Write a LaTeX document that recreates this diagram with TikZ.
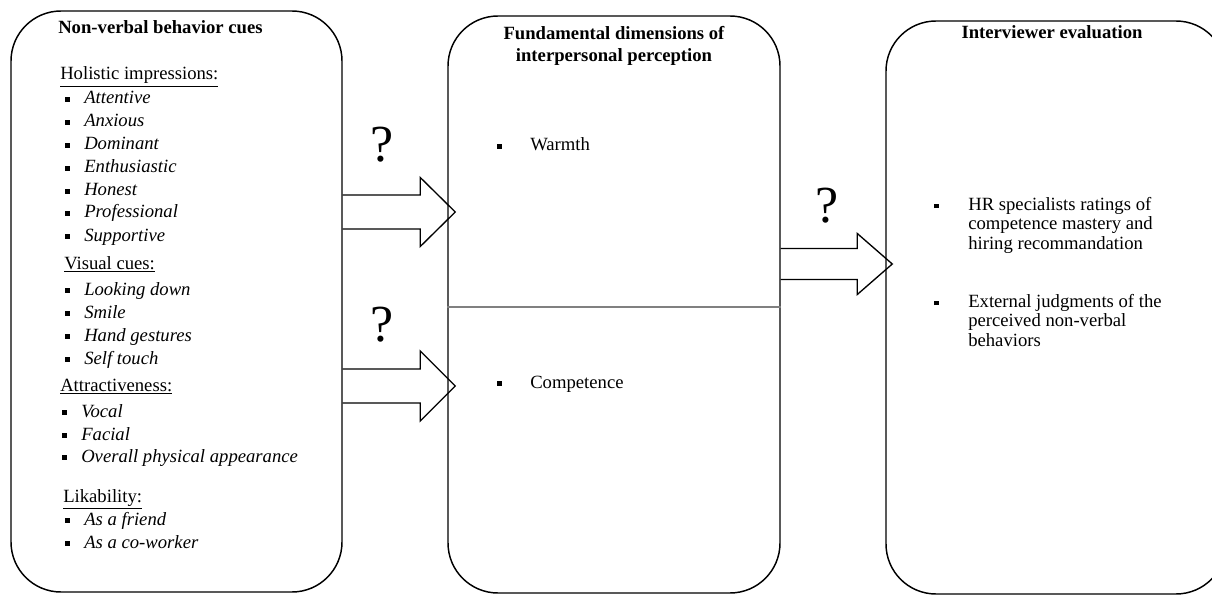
\documentclass[tikz,border=0pt]{standalone}
\usepackage{fontspec}
\setmainfont{Liberation Serif}
\usetikzlibrary{calc, fit}

% small square bullet, hung to the left of the text
\newcommand{\bul}[1]{\llap{\rule[1.6pt]{3.5pt}{3.5pt}\hspace{#1}}}
% block arrow: start, tip, half shaft, half head
\newcommand{\fatarrow}[4]{%
  \draw[fat] ($(#1)+(0,-#3)$) -- ($(#2)+(-35,-#3)$) -- ($(#2)+(-35,-#4)$) -- (#2)
    -- ($(#2)+(-35,#4)$) -- ($(#2)+(-35,#3)$) -- ($(#1)+(0,#3)$);}

\begin{document}
\begin{tikzpicture}[x=0.75pt, y=-0.75pt,
    box/.style={draw, line width=1.1pt, rounded corners=37.5pt, inner sep=0pt},
    title/.style={inner sep=0pt, font=\fontsize{14}{17.2}\selectfont\bfseries},
    head/.style={anchor=base west, inner sep=0pt, font=\fontsize{14}{17}\selectfont},
    cue/.style={anchor=base west, inner sep=0pt, font=\fontsize{14}{17}\selectfont\itshape},
    dim/.style={anchor=base west, inner sep=0pt, font=\fontsize{14}{14.5}\selectfont},
    ask/.style={anchor=base, inner sep=0pt, font=\fontsize{39}{40}\selectfont},
    fat/.style={line width=1pt, line join=miter}]
  \useasboundingbox (0,0) rectangle (1212,595);
  \clip (0,0) rectangle (1212,595);

  % Boxes:
  \node[box, fit={(11,11) (342,592)}] (cues) {};
  \node[box, fit={(448,16) (780,593)}] (dims) {};
  \node[box, fit={(886,21) (1226,594)}] (eval) {};
  \draw[gray, line width=0.8pt] (dims.west |- 0,307) -- (dims.east |- 0,307);

  % Left box
  \node[title, anchor=base west] (cuestitle) at (58,34) {Non-verbal behavior cues};
  \node[head] (holistic) at (60,80) {\underline{Holistic impressions:}};
  \foreach \t/\y [count=\i] in {Attentive/104, Anxious/127, Dominant/150,
      Enthusiastic/173, Honest/196, Professional/218, Supportive/241}
    \node[cue] (hol\i) at (84,\y) {\bul{10.75pt}\t};
  \node[head] (visual) at (64,269) {\underline{Visual cues:}};
  \foreach \t/\y [count=\i] in {Looking down/295, Smile/318, Hand gestures/341, Self touch/364}
    \node[cue] (vis\i) at (84,\y) {\bul{10.75pt}\t};
  \node[head] (attract) at (60,391) {\underline{Attractiveness:}};
  \foreach \t/\y [count=\i] in {Vocal/417, Facial/440, Overall physical appearance/462}
    \node[cue] (att\i) at (81,\y) {\bul{10.75pt}\t};
  \node[head] (likab) at (63,502) {\underline{Likability:}};
  \foreach \t/\y [count=\i] in {As a friend/525, As a co-worker/548}
    \node[cue] (lik\i) at (84,\y) {\bul{10.75pt}\t};

  % Middle box (multi-line nodes sit on their last line)
  \node[title, anchor=base, align=center] (dimstitle) at (614,62)
    {Fundamental dimensions of\\interpersonal perception};
  \node[dim] (warmth) at (530,151) {\bul{21.25pt}Warmth};
  \node[dim] (compet) at (530,388) {\bul{21.25pt}Competence};

  % Right box
  \node[title, anchor=base] (evaltitle) at (1052,39) {Interviewer evaluation};
  \node[dim, align=left] (hr) at (968,249)
    {\bul{22pt}HR specialists ratings of\\competence mastery and\\hiring recommandation};
  \node[dim, align=left] (ext) at (968,346)
    {\bul{22pt}External judgments of the\\perceived non-verbal\\behaviors};

  % Arrows and question marks
  \coordinate (a1s) at (cues.east |- 0,212);
  \coordinate (a1t) at ($(dims.west |- 0,212)+(8,0)$);
  \coordinate (a2s) at (cues.east |- 0,386);
  \coordinate (a2t) at ($(dims.west |- 0,386)+(8,0)$);
  \coordinate (a3s) at (dims.east |- 0,264);
  \coordinate (a3t) at ($(eval.west |- 0,264)+(7,0)$);
  \fatarrow{a1s}{a1t}{17}{34.5}
  \fatarrow{a2s}{a2t}{17}{35}
  \fatarrow{a3s}{a3t}{15.5}{30.5}
  \node[ask] (q1) at (382,162) {?};
  \node[ask] (q2) at (382,341) {?};
  \node[ask] (q3) at (827,223) {?};
\end{tikzpicture}
\end{document}
